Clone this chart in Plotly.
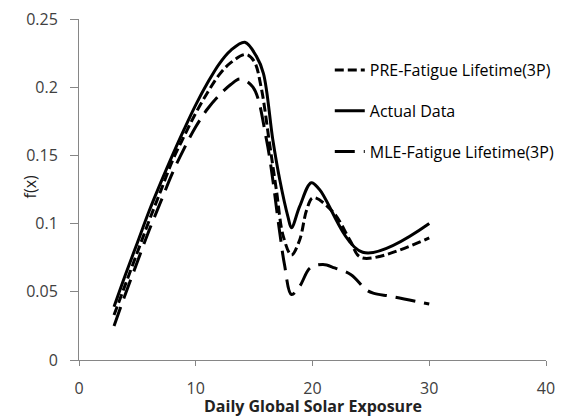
import plotly.graph_objects as go

# Actual Data (solid)
actual_x = [3, 4, 5, 6, 7, 8, 9, 10, 11, 12, 13, 14.2, 15.2, 15.8, 16.6, 17.2, 17.9, 18.2, 18.9, 19.9, 20.6, 24.3, 30]
actual_y = [0.039, 0.063, 0.086, 0.109, 0.130, 0.150, 0.169, 0.187, 0.203, 0.217, 0.227, 0.233, 0.2226, 0.21, 0.1615, 0.132, 0.105, 0.097, 0.1126, 0.13, 0.125, 0.079, 0.1]

# PRE-Fatigue Lifetime(3P) (short dash)
pre_x = [3, 4, 5, 6, 7, 8, 9, 10, 11, 12, 13, 14.3, 15.0, 15.6, 16.3, 16.9, 17.5, 18.2, 18.9, 19.5, 20.05, 21.8, 23.2, 24.2, 30]
pre_y = [0.033, 0.056, 0.079, 0.102, 0.124, 0.146, 0.164, 0.181, 0.196, 0.209, 0.218, 0.224, 0.219, 0.2, 0.16, 0.125, 0.0906, 0.077, 0.088, 0.11, 0.119, 0.108, 0.088, 0.075, 0.0895]

# MLE-Fatigue Lifetime(3P) (long dash)
mle_x = [3, 4, 5, 6, 7, 8, 9, 10, 11, 12, 13, 13.8, 14.9, 16.06, 17.2, 17.6, 18.2, 18.9, 19.8, 20.9, 21.9, 23.3, 24.6, 25.2, 26.8, 30]
mle_y = [0.025, 0.049, 0.072, 0.095, 0.116, 0.137, 0.155, 0.171, 0.184, 0.194, 0.202, 0.206, 0.2, 0.1615, 0.093, 0.07, 0.048, 0.054, 0.0675, 0.070, 0.0675, 0.0625, 0.0515, 0.049, 0.0466, 0.041]

x_ticks = [0, 10, 20, 30, 40]
y_ticks = [0, 0.05, 0.1, 0.15, 0.2, 0.25]
y_tick_text = ["0", "0.05", "0.1", "0.15", "0.2", "0.25"]

FONT = "Open Sans, Lato, sans-serif"

fig = go.Figure()
fig.add_trace(go.Scatter(x=pre_x, y=pre_y, mode="lines", name="PRE-Fatigue Lifetime(3P)",
                         legendgroup="a",
                         line=dict(color="black", width=3, dash="9px,4px", shape="spline", smoothing=1.0)))
fig.add_trace(go.Scatter(x=actual_x, y=actual_y, mode="lines", name="Actual Data",
                         legendgroup="b",
                         line=dict(color="black", width=3, shape="spline", smoothing=1.0)))
fig.add_trace(go.Scatter(x=mle_x, y=mle_y, mode="lines", name="MLE-Fatigue Lifetime(3P)",
                         legendgroup="c",
                         line=dict(color="black", width=3, dash="20px,9px", shape="spline", smoothing=1.0)))

axis_common = dict(showgrid=False, zeroline=False, showline=True, linecolor="#868686", linewidth=1,
                   automargin=False, ticklabeloverflow="allow",
                   ticks="outside", tickcolor="#868686", tickfont=dict(family=FONT, size=16, color="#404040"))

# the page body adds an 8px offset, so the figure is sized to fit the 571x417 window
fig.update_layout(
    width=563, height=409,
    margin=dict(l=71, r=25, t=11, b=57),
    paper_bgcolor="white", plot_bgcolor="white",
    font=dict(family=FONT, color="black"),
    showlegend=True,
    legend=dict(x=0.537, y=0.9, xanchor="left", yanchor="top", bgcolor="rgba(0,0,0,0)",
                font=dict(family=FONT, size=16, color="black"), tracegroupgap=17,
                traceorder="grouped"),
    xaxis=dict(range=[0, 40], tickvals=x_ticks, ticklen=5, ticklabelstandoff=9, **axis_common),
    yaxis=dict(range=[0, 0.25], tickvals=y_ticks, ticktext=y_tick_text, ticklen=8, ticklabelstandoff=9,
               **axis_common),
    annotations=[
        dict(text="<b>Daily Global Solar Exposure</b>", xref="paper", yref="paper", x=0.5, y=-0.134,
             xanchor="center", yanchor="middle", showarrow=False,
             font=dict(family=FONT, size=16, color="#222")),
        dict(text="f(x)", xref="paper", yref="paper", x=-0.1056, y=0.508, textangle=-90,
             xanchor="center", yanchor="middle", showarrow=False,
             font=dict(family=FONT, size=16, color="#222")),
    ],
)

fig.write_html("out.html")
